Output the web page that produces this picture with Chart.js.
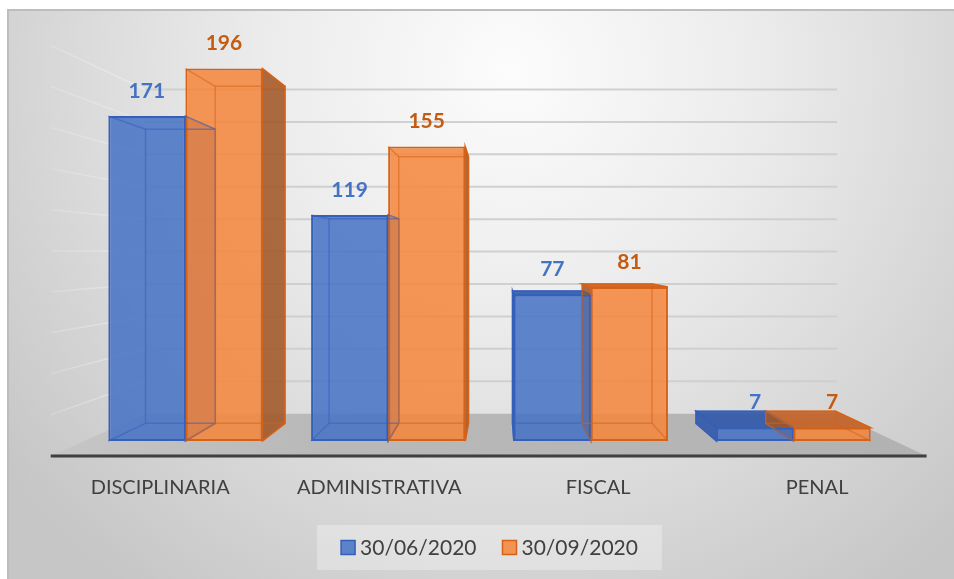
<!DOCTYPE html>
<html>
<head>
<meta charset="utf-8">
<script src="https://cdn.jsdelivr.net/npm/chart.js@4.4.1/dist/chart.umd.min.js"></script>
<style>
  html, body { margin: 0; padding: 0; background: #fff; }
  #wrap { width: 954px; height: 579px; }
</style>
</head>
<body>
<div id="wrap"><canvas id="chart" width="954" height="579"></canvas></div>
<script>
const categories = ["DISCIPLINARIA", "ADMINISTRATIVA", "FISCAL", "PENAL"];
const seriesLabels = ["30/06/2020", "30/09/2020"];
const valuesJun = [171, 119, 77, 7];
const valuesSep = [196, 155, 81, 7];
const gridValues = [0, 20, 40, 60, 80, 100, 120, 140, 160, 180, 200];

// colours per series: front face, side face, top face, edge, label
const palette = [
  { face: "rgba(68,114,196,0.85)", side: "rgba(42,82,165,0.85)", top: "rgba(48,86,168,0.9)", edge: "rgb(52,96,186)", label: "#4472C4" },
  { face: "rgba(245,134,60,0.86)", side: "rgba(160,86,38,0.88)", top: "rgba(196,98,38,0.9)", edge: "rgb(214,98,24)", label: "#C55A11" }
];

const FONT = "Lato, 'Open Sans', sans-serif";
// fake 3d: vanishing point (fraction of plot area) and depth scales
const VP = { fx: 0.513, fy: 0.51 };
const S_BACK = 0.905, S_WALL = 0.853, S_FRONT = 1.08;

function vanish(chart) {
  const a = chart.chartArea;
  return { x: a.left + (a.right - a.left) * VP.fx, y: a.top + (a.bottom - a.top) * VP.fy };
}
function proj(v, x, y, s) {
  return [v.x + s * (x - v.x), v.y + s * (y - v.y)];
}
function poly(ctx, pts) {
  ctx.beginPath();
  ctx.moveTo(pts[0][0], pts[0][1]);
  for (let i = 1; i < pts.length; i++) ctx.lineTo(pts[i][0], pts[i][1]);
  ctx.closePath();
}
function boxOf(el, v) {
  const p = el.getProps(["x", "y", "base", "width"], true);
  const l = p.x - p.width / 2, r = p.x + p.width / 2, t = p.y, b = p.base;
  return {
    l, r, t, b,
    fTL: [l, t], fTR: [r, t], fBL: [l, b], fBR: [r, b],
    bTL: proj(v, l, t, S_BACK), bTR: proj(v, r, t, S_BACK),
    bBL: proj(v, l, b, S_BACK), bBR: proj(v, r, b, S_BACK)
  };
}

const scene3d = {
  id: "scene3d",
  beforeDraw(chart) {
    const { ctx, width, height } = chart;
    ctx.save();
    ctx.fillStyle = "#fff";
    ctx.fillRect(0, 0, width, height);
    const g = ctx.createRadialGradient(510, 70, 0, 510, 70, 640);
    g.addColorStop(0, "#fcfcfc");
    g.addColorStop(0.4, "#ebebeb");
    g.addColorStop(1, "#c6c6c6");
    ctx.fillStyle = g;
    ctx.fillRect(8, 10, width - 8, height - 10);
    ctx.strokeStyle = "#bdbdbd";
    ctx.lineWidth = 2;
    ctx.beginPath();
    ctx.moveTo(8, height);
    ctx.lineTo(8, 10);
    ctx.lineTo(width, 10);
    ctx.stroke();
    ctx.restore();
  },
  beforeDatasetsDraw(chart) {
    const { ctx, chartArea: a } = chart;
    const yS = chart.scales.y;
    const v = vanish(chart);
    const y0 = yS.getPixelForValue(0);
    ctx.save();

    // floor
    const fl = proj(v, a.left, y0, S_FRONT), fr = proj(v, a.right, y0, S_FRONT);
    const br = proj(v, a.right, y0, S_WALL), bl = proj(v, a.left, y0, S_WALL);
    const fg = ctx.createLinearGradient(fl[0], 0, fr[0], 0);
    fg.addColorStop(0, "#c6c6c6");
    fg.addColorStop(0.3, "#b9b9b9");
    fg.addColorStop(1, "#b2b2b2");
    ctx.fillStyle = fg;
    poly(ctx, [fl, fr, br, bl]);
    ctx.fill();

    // back wall + side wall gridlines
    gridValues.forEach(val => {
      if (val === 0) return;
      const y = yS.getPixelForValue(val);
      const l = proj(v, a.left, y, S_WALL), r = proj(v, a.right, y, S_WALL);
      const f = proj(v, a.left, y, S_FRONT);
      ctx.strokeStyle = "rgba(205,205,205,0.95)";
      ctx.lineWidth = 2;
      ctx.beginPath(); ctx.moveTo(l[0], l[1]); ctx.lineTo(r[0], r[1]); ctx.stroke();
      const sg = ctx.createLinearGradient(f[0], 0, l[0], 0);
      sg.addColorStop(0, "rgba(238,238,238,0.25)");
      sg.addColorStop(1, "rgba(238,238,238,0.6)");
      ctx.strokeStyle = sg;
      ctx.lineWidth = 1.5;
      ctx.beginPath(); ctx.moveTo(f[0], f[1]); ctx.lineTo(l[0], l[1]); ctx.stroke();
    });

    // axis line at the floor front edge
    ctx.strokeStyle = "#3f3f3f";
    ctx.lineWidth = 3;
    ctx.beginPath(); ctx.moveTo(fl[0], fl[1]); ctx.lineTo(fr[0], fr[1]); ctx.stroke();

    // visible side / top faces of the columns
    chart.data.datasets.forEach((ds, di) => {
      const col = palette[di];
      chart.getDatasetMeta(di).data.forEach(el => {
        const bx = boxOf(el, v);
        ctx.lineWidth = 1.5;
        ctx.strokeStyle = col.edge;
        if (bx.r < v.x) {
          ctx.fillStyle = col.side;
          poly(ctx, [bx.fTR, bx.bTR, bx.bBR, bx.fBR]);
          ctx.fill(); ctx.stroke();
        }
        if (bx.l > v.x) {
          ctx.fillStyle = col.side;
          poly(ctx, [bx.fTL, bx.bTL, bx.bBL, bx.fBL]);
          ctx.fill(); ctx.stroke();
        }
        if (bx.t > v.y) {
          ctx.fillStyle = col.top;
          poly(ctx, [bx.fTL, bx.fTR, bx.bTR, bx.bTL]);
          ctx.fill(); ctx.stroke();
        }
      });
    });
    ctx.restore();
  },
  afterDatasetsDraw(chart) {
    const { ctx, chartArea: a } = chart;
    const xS = chart.scales.x, yS = chart.scales.y;
    const v = vanish(chart);
    ctx.save();

    // see-through back edges
    chart.data.datasets.forEach((ds, di) => {
      const col = palette[di];
      chart.getDatasetMeta(di).data.forEach(el => {
        const bx = boxOf(el, v);
        ctx.globalAlpha = 0.55;
        ctx.strokeStyle = col.edge;
        ctx.lineWidth = 1.5;
        poly(ctx, [bx.bTL, bx.bTR, bx.bBR, bx.bBL]);
        ctx.stroke();
        [["fTL", "bTL"], ["fTR", "bTR"], ["fBL", "bBL"], ["fBR", "bBR"]].forEach(([f, k]) => {
          ctx.beginPath(); ctx.moveTo(bx[f][0], bx[f][1]); ctx.lineTo(bx[k][0], bx[k][1]); ctx.stroke();
        });
        ctx.globalAlpha = 1;
      });
    });

    // value labels
    ctx.font = "bold 21px " + FONT;
    ctx.textAlign = "center";
    ctx.textBaseline = "middle";
    chart.data.datasets.forEach((ds, di) => {
      ctx.fillStyle = palette[di].label;
      chart.getDatasetMeta(di).data.forEach((el, i) => {
        ctx.fillText(String(ds.data[i]), el.x, el.y - 25);
      });
    });

    // category labels on the floor front edge
    const y0 = yS.getPixelForValue(0);
    const frontY = proj(v, a.left, y0, S_FRONT)[1];
    ctx.font = "20px " + FONT;
    ctx.fillStyle = "#404040";
    categories.forEach((c, i) => {
      const p = proj(v, xS.getPixelForValue(i), y0, S_FRONT);
      ctx.fillText(c, p[0], frontY + 32);
    });

    // legend
    ctx.font = "21px " + FONT;
    const sq = 14, gap = 5, between = 26;
    const widths = seriesLabels.map(t => sq + gap + ctx.measureText(t).width);
    const total = widths[0] + between + widths[1];
    const cx = (a.left + a.right) / 2;
    const boxW = total + 48, boxTop = 525, boxH = 45;
    ctx.fillStyle = "rgba(255,255,255,0.3)";
    ctx.fillRect(cx - boxW / 2, boxTop, boxW, boxH);
    let x = cx - total / 2;
    const ly = boxTop + boxH / 2;
    seriesLabels.forEach((t, i) => {
      ctx.fillStyle = palette[i].face;
      ctx.fillRect(x, ly - sq / 2, sq, sq);
      ctx.strokeStyle = palette[i].edge;
      ctx.lineWidth = 1.5;
      ctx.strokeRect(x, ly - sq / 2, sq, sq);
      ctx.fillStyle = "#404040";
      ctx.textAlign = "left";
      ctx.fillText(t, x + sq + gap, ly + 1);
      x += widths[i] + between;
    });
    ctx.restore();
  }
};

new Chart(document.getElementById("chart"), {
  type: "bar",
  data: {
    labels: categories,
    datasets: [
      {
        label: seriesLabels[0],
        data: valuesJun,
        backgroundColor: palette[0].face,
        borderColor: palette[0].edge,
        borderWidth: 2,
        borderSkipped: false
      },
      {
        label: seriesLabels[1],
        data: valuesSep,
        backgroundColor: palette[1].face,
        borderColor: palette[1].edge,
        borderWidth: 2,
        borderSkipped: false
      }
    ]
  },
  options: {
    responsive: false,
    devicePixelRatio: 1,
    animation: false,
    datasets: { bar: { categoryPercentage: 0.76, barPercentage: 1 } },
    layout: { padding: { left: 84, right: 59, top: 61, bottom: 138 } },
    plugins: {
      legend: { display: false },
      tooltip: { enabled: false }
    },
    scales: {
      x: { display: false },
      y: { display: false, min: 0, max: 200 }
    }
  },
  plugins: [scene3d]
});
</script>
</body>
</html>
